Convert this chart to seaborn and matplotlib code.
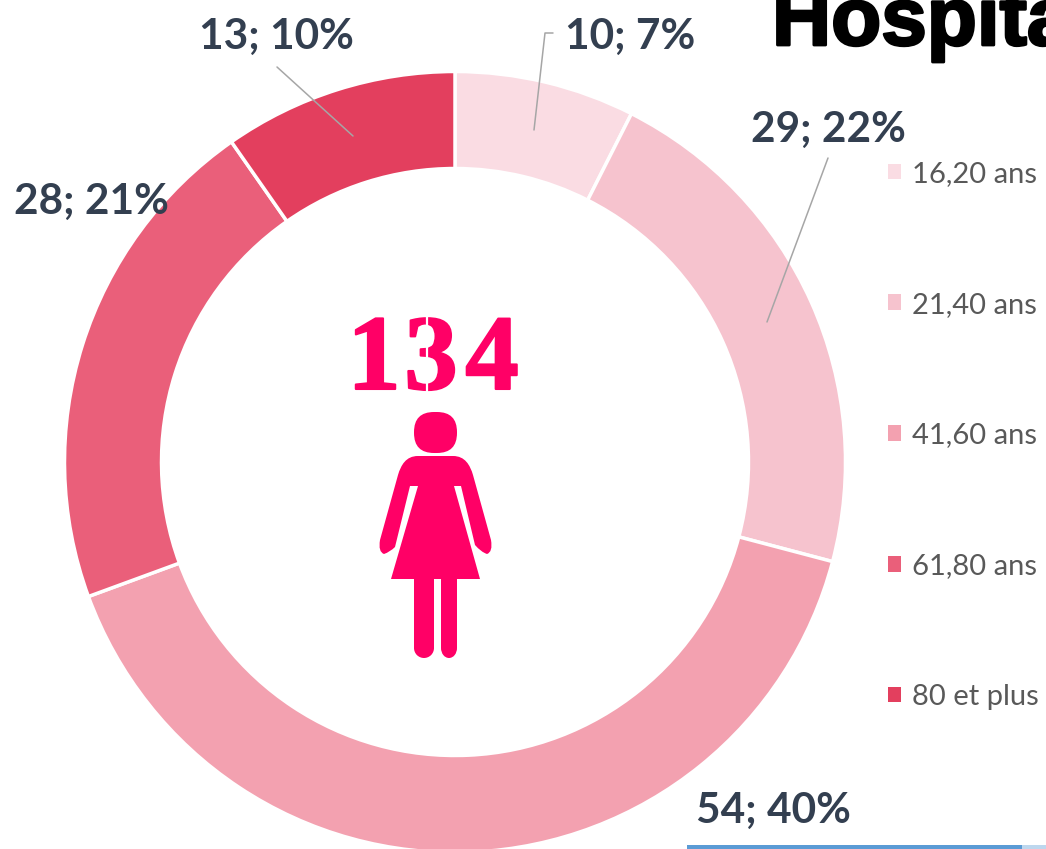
import matplotlib
matplotlib.use("Agg")
import matplotlib.pyplot as plt
import matplotlib.patheffects as pe
from matplotlib.patches import Patch, PathPatch, FancyBboxPatch, Rectangle, Ellipse
from matplotlib.path import Path
import seaborn as sns

categories = ["16,20 ans", "21,40 ans", "41,60 ans", "61,80 ans", "80 et plus"]
values = [10, 29, 54, 28, 13]
percents = [7, 22, 40, 21, 10]
colors = ["#FADCE3", "#F6C3CE", "#F3A1B0", "#EA5F7A", "#E33F5E"]
total = 134

W, H = 1046, 849
PINK = "#FF0066"
DARK = "#333F50"
GREY = "#A6A6A6"

sns.set_theme(style="white")
plt.rcParams["font.family"] = ["Lato", "DejaVu Sans"]

fig = plt.figure(figsize=(W / 100, H / 100), dpi=100)
ax = fig.add_axes([0, 0, 1, 1])

# donut, axes units are pixels of the picture (y flipped by hand)
wedges, _ = ax.pie(values, colors=sns.color_palette(colors), startangle=90, counterclock=False,
                   center=(455, H - 462), radius=390.5,
                   wedgeprops=dict(width=97, edgecolor="white", linewidth=2.5))
ax.set_xlim(0, W)
ax.set_ylim(0, H)
ax.axis("off")

# leader lines
ax.plot([553, 545, 534], [H - 33, H - 33, H - 130], color=GREY, lw=1.1)
ax.plot([828, 767], [H - 158, H - 322], color=GREY, lw=1.1)
ax.plot([277, 353], [H - 67, H - 136], color=GREY, lw=1.1)

# data labels
label_pos = [(630, 37), (828, 130), (773, 811), (91, 202), (276, 37)]
for (x, y), v, p in zip(label_pos, values, percents):
    ax.text(x, H - y, f"{v}; {p}%", ha="center", va="center", fontsize=30.5,
            fontweight="bold", color=DARK, zorder=5)

# legend
handles = [Patch(facecolor=c, edgecolor="none") for c in colors]
fig.legend(handles, categories, loc="upper left", bbox_to_anchor=(888 / W, 1 - 161 / H),
           frameon=False, fontsize=21, labelcolor="#595959", handlelength=0.45,
           handleheight=0.45, handletextpad=0.36, labelspacing=3.59, borderpad=0, borderaxespad=0)

# clipped title from the slide behind
ax.text(772, H - 45, "Hospitalisation", ha="left", va="baseline", fontsize=59, fontweight="bold",
        family="Liberation Sans", color="black",
        path_effects=[pe.withStroke(linewidth=2, foreground="black")])

# bar at the bottom right
ax.add_patch(Rectangle((687, 0), 335, 4, color="#5B9BD5", lw=0))
ax.add_patch(Rectangle((1022, 0), 24, 4, color="#BDD7EE", lw=0))

# centre number, one digit at a time because it is spaced wide
digit_x = [374, 431, 492]
for d, x in zip(str(total), digit_x):
    ax.text(x, H - 389, d, ha="center", va="baseline", fontsize=77, fontweight="bold",
            family="Liberation Serif", color=PINK,
            path_effects=[pe.withStroke(linewidth=1.5, foreground=PINK)])
# stencil cut through the 3
ax.plot([427, 427], [H - 316, H - 392], color="white", lw=1.6, zorder=4)


# woman icon, points
def px(x, y):
    return (x, H - y)


body = [
    (Path.MOVETO, (418, 456)),
    (Path.LINETO, (453, 456)),
    (Path.CURVE4, (465, 456)), (Path.CURVE4, (470, 465)), (Path.CURVE4, (473, 475)),
    (Path.LINETO, (491, 540)),
    (Path.CURVE3, (493, 552)), (Path.CURVE3, (487, 554)),
    (Path.CURVE3, (481, 552)), (Path.CURVE3, (475, 545)),
    (Path.LINETO, (461, 486)),
    (Path.LINETO, (454, 486)),
    (Path.LINETO, (480, 579)),
    (Path.LINETO, (391, 579)),
    (Path.LINETO, (418, 486)),
    (Path.LINETO, (410, 486)),
    (Path.LINETO, (395, 547)),
    (Path.CURVE3, (390, 552)), (Path.CURVE3, (384, 554)),
    (Path.CURVE3, (378, 552)), (Path.CURVE3, (380, 540)),
    (Path.LINETO, (398, 475)),
    (Path.CURVE4, (401, 465)), (Path.CURVE4, (406, 456)), (Path.CURVE4, (418, 456)),
    (Path.CLOSEPOLY, (418, 456)),
]
codes = [c for c, _ in body]
verts = [px(*p) for _, p in body]
ax.add_patch(PathPatch(Path(verts, codes), facecolor=PINK, edgecolor="none"))

# head
ax.add_patch(FancyBboxPatch((414, H - 453), 43, 41, boxstyle="round,pad=0,rounding_size=20",
                            facecolor=PINK, edgecolor="none"))
# legs
for x0, w in [(414, 20), (441, 16)]:
    ax.add_patch(Rectangle((x0, H - 648), w, 72, facecolor=PINK, edgecolor="none"))
    ax.add_patch(Ellipse((x0 + w / 2, H - 648), w, 20, facecolor=PINK, edgecolor="none"))

fig.savefig("out.png", dpi=100, facecolor="white")
